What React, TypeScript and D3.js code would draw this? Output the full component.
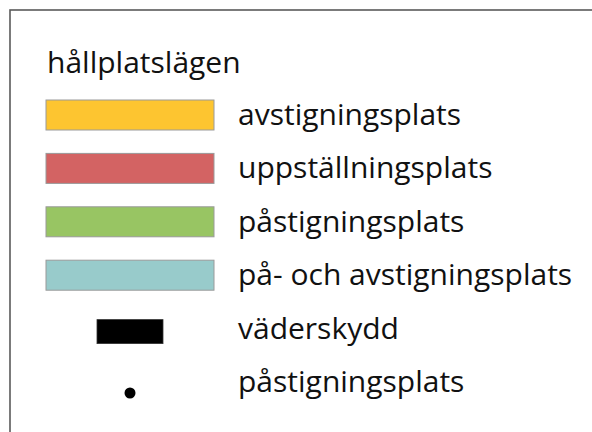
import React from "react";
import * as d3 from "d3";

const W = 592;
const H = 432;

const legendTitle = "hållplatslägen";
const labels = [
    "avstigningsplats",
    "uppställningsplats",
    "påstigningsplats",
    "på- och avstigningsplats",
    "väderskydd",
    "påstigningsplats",
];
const kinds = ["swatch", "swatch", "swatch", "swatch", "shelter", "dot"];
const colors = ["#fdc530", "#d36363", "#98c563", "#98cbcb", "#000000", "#000000"];

const FONT = "'Open Sans', 'Noto Sans', sans-serif";

export default function App() {
    // baselines of the legend rows
    const y = d3.scalePoint<string>()
        .domain(d3.range(labels.length).map(String))
        .range([125, 392]);

    return <svg width={W} height={H} style={{ position: "absolute", left: 0, top: 0, background: "#fff" }}>
        <rect x={10} y={10} width={W + 20} height={H + 20} fill="#fff" stroke="#5a5a5a" strokeWidth={1.6} />
        <text x={47} y={73} fontFamily={FONT} fontSize={30} fill="#111">{legendTitle}</text>
        {labels.map((lab, i) => {
            const by = y(String(i))!;
            const kind = kinds[i];
            return <g key={i}>
                {kind == "swatch" &&
                    <rect x={46} y={by - 25} width={168} height={30} fill={colors[i]} stroke="#9a9a9a" strokeWidth={1} />}
                {kind == "shelter" &&
                    <rect x={97} y={by - 19} width={66} height={24} fill={colors[i]} stroke="#333" strokeWidth={0.8} />}
                {kind == "dot" &&
                    <circle cx={130} cy={by + 1} r={5.5} fill={colors[i]} />}
                <text x={238} y={by} fontFamily={FONT} fontSize={30} fill="#111">{lab}</text>
            </g>
        })}
    </svg>
}
